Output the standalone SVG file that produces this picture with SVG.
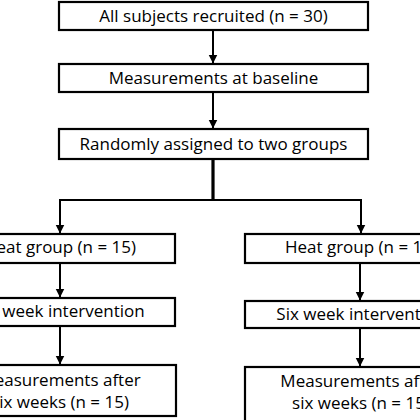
<svg xmlns="http://www.w3.org/2000/svg" width="420" height="420" viewBox="0 0 420 420">
<style>
.box{fill:#fff;stroke:#000;stroke-width:2.2}
.t{font-family:"Open Sans","Liberation Sans",sans-serif;font-size:17px;fill:#000;text-anchor:middle}
.c{fill:none;stroke:#000;stroke-width:2}
</style>
<defs>
<marker id="ah" markerUnits="userSpaceOnUse" markerWidth="10" markerHeight="10" refX="9" refY="4.5" orient="auto">
<path d="M0,0 L9,4.5 L0,9 Z" fill="#000"/>
</marker>
</defs>
<rect width="420" height="420" fill="#fff"/>
<g id="connectors">
<line class="c" x1="213" y1="31" x2="213" y2="63.5" marker-end="url(#ah)"/>
<line class="c" x1="213" y1="93" x2="213" y2="128.5" marker-end="url(#ah)"/>
<line class="c" x1="213" y1="160" x2="213" y2="200" style="stroke-width:3.2"/>
<line class="c" x1="59" y1="200" x2="362" y2="200" style="stroke-width:2.2"/>
<line class="c" x1="60" y1="200" x2="60" y2="233.5" marker-end="url(#ah)"/>
<line class="c" x1="361" y1="200" x2="361" y2="233.5" marker-end="url(#ah)"/>
<line class="c" x1="60" y1="264" x2="60" y2="297.5" marker-end="url(#ah)"/>
<line class="c" x1="60" y1="327" x2="60" y2="364.5" marker-end="url(#ah)"/>
<line class="c" x1="360" y1="264" x2="360" y2="300.5" marker-end="url(#ah)"/>
<line class="c" x1="360" y1="329" x2="360" y2="366.5" marker-end="url(#ah)"/>
</g>
<g id="recruited">
<rect class="box" x="59" y="2" width="309" height="28"/>
<text class="t" x="213.5" y="22">All subjects recruited (n = 30)</text>
</g>
<g id="baseline">
<rect class="box" x="59" y="64" width="309" height="28"/>
<text class="t" x="213.5" y="84">Measurements at baseline</text>
</g>
<g id="randomly">
<rect class="box" x="59" y="129" width="309" height="30"/>
<text class="t" x="213.5" y="150">Randomly assigned to two groups</text>
</g>
<g id="heat-left">
<rect class="box" x="-55" y="234" width="230" height="29"/>
<text class="t" x="60" y="253">Heat group (n = 15)</text>
</g>
<g id="heat-right">
<rect class="box" x="245" y="234" width="232" height="29"/>
<text class="t" x="361" y="253">Heat group (n = 15)</text>
</g>
<g id="intervention-left">
<rect class="box" x="-55" y="298" width="230" height="28"/>
<text class="t" x="60" y="317">Six week intervention</text>
</g>
<g id="intervention-right">
<rect class="box" x="245" y="301" width="232" height="27"/>
<text class="t" x="361" y="320">Six week intervention</text>
</g>
<g id="after-left">
<rect class="box" x="-55" y="365" width="231" height="51"/>
<text class="t" x="60" y="386">Measurements after</text>
<text class="t" x="60" y="408">six weeks (n = 15)</text>
</g>
<g id="after-right">
<rect class="box" x="245" y="367" width="232" height="60"/>
<text class="t" x="361" y="387">Measurements after</text>
<text class="t" x="361" y="409">six weeks (n = 15)</text>
</g>
</svg>
